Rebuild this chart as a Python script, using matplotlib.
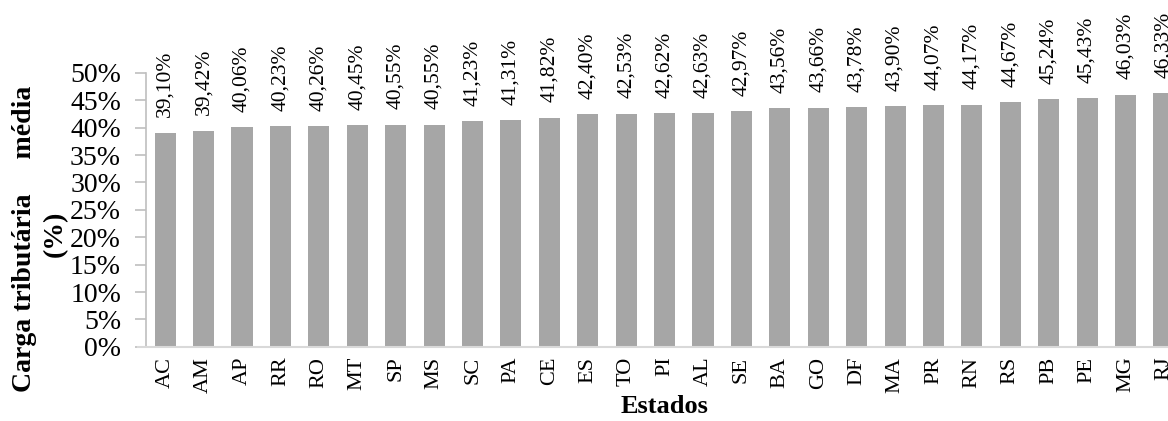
import matplotlib.pyplot as plt
import numpy as np

# Average tax burden per state (%), sorted ascending
estados = ["AC", "AM", "AP", "RR", "RO", "MT", "SP", "MS", "SC", "PA", "CE", "ES", "TO", "PI",
           "AL", "SE", "BA", "GO", "DF", "MA", "PR", "RN", "RS", "PB", "PE", "MG", "RJ"]
carga = [39.10, 39.42, 40.06, 40.23, 40.26, 40.45, 40.55, 40.55, 41.23, 41.31, 41.82, 42.40, 42.53, 42.62,
         42.63, 42.97, 43.56, 43.66, 43.78, 43.90, 44.07, 44.17, 44.67, 45.24, 45.43, 46.03, 46.33]
yticks = list(range(0, 55, 5))

plt.rcParams["font.family"] = ["Liberation Serif", "DejaVu Serif"]

fig = plt.figure(figsize=(11.68, 4.21), dpi=100)
# axes run past the right edge so the last bar is clipped
ax = fig.add_axes([0.125, 0.176, 0.888, 0.651])

x = np.arange(len(estados))
ax.bar(x, carga, width=0.55, color="#a6a6a6", zorder=2)

for xi, v in zip(x, carga):
    ax.text(xi, v + 2.8, f"{v:.2f}%".replace(".", ","), rotation=90,
            ha="center", va="bottom", fontsize=15.5, clip_on=False)

ax.set_xlim(-0.5, len(estados) - 0.5)
ax.set_ylim(0, 50)
ax.set_yticks(yticks)
ax.set_yticklabels([f"{t}%" for t in yticks], fontsize=20)
ax.set_xticks(x)
ax.set_xticklabels(estados, rotation=90, fontsize=16)

for s in ["top", "right"]:
    ax.spines[s].set_visible(False)
ax.spines["left"].set_color("#bfbfbf")
ax.spines["bottom"].set_color("#d9d9d9")
ax.spines["left"].set_linewidth(1.2)
ax.spines["bottom"].set_linewidth(1.5)
ax.spines["bottom"].set_bounds(-0.72, len(estados) - 0.5)
ax.tick_params(axis="y", length=8, color="#bfbfbf", width=1.2, pad=10)
ax.tick_params(axis="x", length=0, pad=7)

ax.set_xlabel("Estados", fontsize=19, fontweight="bold", labelpad=2)
fig.text(0.021, 0.433, "Carga tributária     média", rotation=90, fontsize=20,
         fontweight="bold", ha="center", va="center")
fig.text(0.047, 0.445, "(%)", rotation=90, fontsize=20,
         fontweight="bold", ha="center", va="center")

fig.savefig("out.png", dpi=100)
